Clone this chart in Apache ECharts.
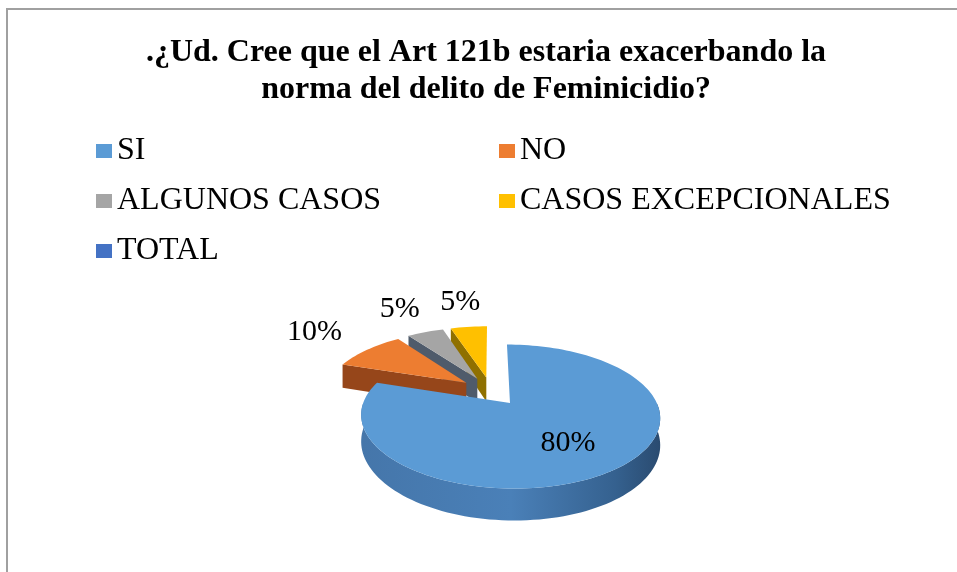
<!DOCTYPE html>
<html>

<head>
    <meta charset="UTF-8">
    <title>Art 121b</title>
    <script src="https://cdn.jsdelivr.net/npm/echarts@6/dist/echarts.min.js"></script>
</head>

<body style="margin:0;background:#fff;">
    <div id="chart" style="width: 957px;height:572px;"></div>
    <script type="text/javascript">
        var myChart = echarts.init(document.getElementById('chart'));

        // data
        var categories = ['SI', 'NO', 'ALGUNOS CASOS', 'CASOS EXCEPCIONALES', 'TOTAL'];
        var values = [80, 10, 5, 5, 0];
        var topColors = ['#5B9BD5', '#ED7D31', '#A5A5A5', '#FFC000', '#4472C4'];
        var sideColors = ['#41719C', '#96461A', '#4F5B6B', '#8F7000', '#2F5597'];
        var drawOrder = [5, 4, 3, 2, 1]; // back slices first

        var total = values.reduce(function (s, v) { return s + v; }, 0);

        // fake 3D pie: tilted disc with a bit of perspective
        var CX = 491, CY = 391;   // centre of the un-exploded pie
        var RX = 142, RY = 65;    // radii on screen
        var PERSP = 0.183;        // front looks bigger than back
        var DEPTH = 25;           // thickness
        var EXPLODE = 0.22;       // explosion, in radius units

        function proj(u, v, down) {
            var p = 1 / (1 + PERSP * v);
            return [CX + RX * u * p, CY - RY * v * p + DEPTH * down * p];
        }

        function renderSlice(params, api) {
            var idx = api.value(0);
            var val = api.value(1);
            if (!val) return;
            var before = 0;
            for (var k = 0; k < idx; k++) before += values[k];
            var a0 = before / total * Math.PI * 2;
            var a1 = (before + val) / total * Math.PI * 2;
            var mid = (a0 + a1) / 2;
            var ox = EXPLODE * Math.sin(mid), oy = EXPLODE * Math.cos(mid);

            function pt(r, ang, down) {
                return proj(ox + r * Math.sin(ang), oy + r * Math.cos(ang), down);
            }
            function arc(from, to, down) {
                var n = Math.max(2, Math.ceil(Math.abs(to - from) / (Math.PI / 90)));
                var pts = [];
                for (var j = 0; j <= n; j++) pts.push(pt(1, from + (to - from) * j / n, down));
                return pts;
            }

            var children = [];
            var side = sideColors[idx];

            // cut faces that turn towards the viewer
            [[a0, Math.sin(a0) < -1e-6], [a1, Math.sin(a1) > 1e-6]].forEach(function (f) {
                if (!f[1]) return;
                children.push({
                    type: 'polygon',
                    shape: { points: [pt(0, 0, 0), pt(1, f[0], 0), pt(1, f[0], 1), pt(0, 0, 1)] },
                    style: { fill: side }
                });
            });

            // outer wall, front half only
            var w0 = Math.max(a0, Math.PI / 2), w1 = Math.min(a1, Math.PI * 1.5);
            if (w1 > w0) {
                var wall = arc(w0, w1, 0).concat(arc(w1, w0, 1));
                children.push({
                    type: 'polygon',
                    shape: { points: wall },
                    style: {
                        fill: new echarts.graphic.LinearGradient(0, 0, 1, 0, [
                            { offset: 0, color: '#4576AA' },
                            { offset: 0.5, color: '#4A80B8' },
                            { offset: 0.85, color: '#35618F' },
                            { offset: 1, color: '#2A4B70' }
                        ])
                    }
                });
            }

            // top face
            children.push({
                type: 'polygon',
                shape: { points: [pt(0, 0, 0)].concat(arc(a0, a1, 0)) },
                style: { fill: topColors[idx] }
            });

            // percentage label
            var frac = val / total;
            var lp = frac > 0.15 ? pt(0.62, mid + 0.04, 0) : pt(1.62, mid, 0);
            children.push({
                type: 'text',
                x: lp[0],
                y: lp[1],
                style: {
                    text: Math.round(frac * 100) + '%',
                    fontFamily: 'Liberation Serif',
                    fontSize: 30,
                    fill: '#000',
                    align: 'center',
                    verticalAlign: 'middle'
                }
            });

            return { type: 'group', children: children };
        }

        var series = categories.map(function (name, i) {
            return {
                name: name,
                type: 'custom',
                coordinateSystem: 'none',
                z: drawOrder[i],
                silent: true,
                itemStyle: { color: topColors[i] },
                renderItem: renderSlice,
                data: [[i, values[i]]]
            };
        });

        var legendText = {
            fontFamily: 'Liberation Serif',
            fontSize: 32,
            color: '#000',
            lineHeight: 36
        };

        var option = {
            animation: false,
            title: {
                text: '.¿Ud. Cree que el Art 121b estaria exacerbando la\nnorma del delito de Feminicidio?',
                left: 486,
                top: 34,
                padding: 0,
                textAlign: 'center',
                textStyle: {
                    fontFamily: 'Liberation Serif',
                    fontWeight: 'bold',
                    fontSize: 32,
                    lineHeight: 37,
                    color: '#000'
                }
            },
            legend: [
                {
                    data: ['SI', 'ALGUNOS CASOS', 'TOTAL'],
                    orient: 'vertical',
                    left: 96,
                    top: 133,
                    padding: 0,
                    itemGap: 14,
                    itemWidth: 16,
                    itemHeight: 14,
                    icon: 'rect',
                    selectedMode: false,
                    textStyle: legendText
                },
                {
                    data: ['NO', 'CASOS EXCEPCIONALES'],
                    orient: 'vertical',
                    left: 499,
                    top: 133,
                    padding: 0,
                    itemGap: 14,
                    itemWidth: 16,
                    itemHeight: 14,
                    icon: 'rect',
                    selectedMode: false,
                    textStyle: legendText
                }
            ],
            graphic: [
                {
                    type: 'rect',
                    shape: { x: 7, y: 9, width: 1000, height: 600 },
                    style: { fill: 'none', stroke: '#A0A0A0', lineWidth: 2 },
                    silent: true
                }
            ],
            series: series
        };

        myChart.setOption(option);
    </script>
</body>

</html>
